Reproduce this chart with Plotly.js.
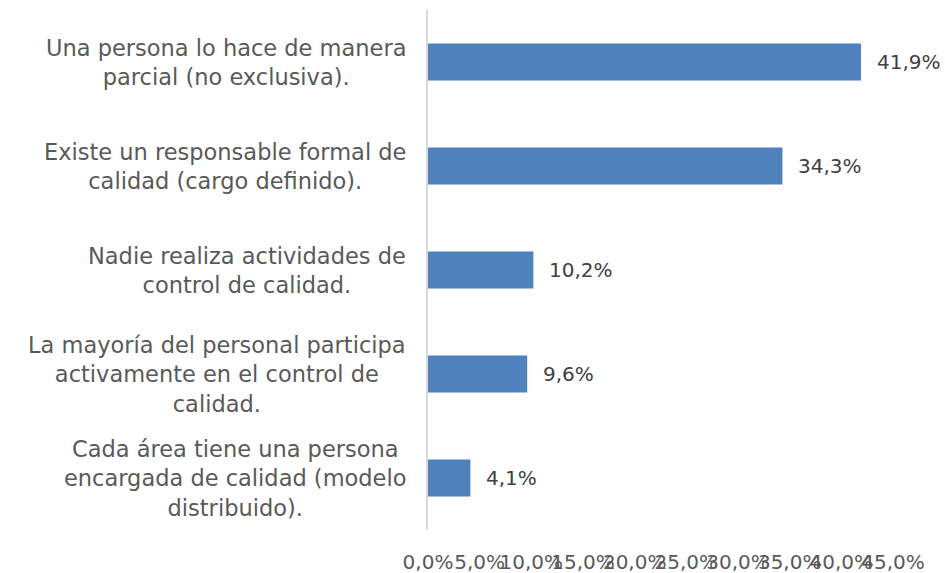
<!DOCTYPE html>
<html>
<head>
<meta charset="utf-8">
<script src="https://cdn.plot.ly/plotly-3.0.1.min.js"></script>
<style>html,body{margin:0;padding:0;background:#fff;}#chart{width:945px;height:573px;}</style>
</head>
<body>
<div id="chart"></div>
<script>
const categories = [
  "Una persona lo hace de manera<br>parcial (no exclusiva).",
  "Existe un responsable formal de<br>calidad (cargo definido).",
  "Nadie realiza actividades de<br>control de calidad.",
  "La mayoría del personal participa<br>activamente en el control de<br>calidad.",
  "Cada área tiene una persona<br>encargada de calidad (modelo<br>distribuido)."
];
const values = [41.9, 34.3, 10.2, 9.6, 4.1];
const tickVals = [0, 5, 10, 15, 20, 25, 30, 35, 40, 45];
const tickText = ["0,0%", "5,0%", "10,0%", "15,0%", "20,0%", "25,0%", "30,0%", "35,0%", "40,0%", "45,0%"];

const FONT = "DejaVu Sans";
const trace = {
  type: "bar",
  orientation: "h",
  x: values,
  y: categories,
  marker: {color: "#4F81BD"},
  hoverinfo: "skip"
};

const annotations = [];
categories.forEach((c, i) => {
  annotations.push({
    xref: "paper", yref: "y", x: 0, y: c, xshift: -20,
    xanchor: "right", yanchor: "middle", align: "center",
    text: c, showarrow: false,
    font: {family: FONT, size: 22.5, color: "#595959"}
  });
  annotations.push({
    xref: "x", yref: "y", x: values[i], y: c, xshift: 14,
    xanchor: "left", yanchor: "middle",
    text: values[i].toFixed(1).replace(".", ",") + "%", showarrow: false,
    font: {family: FONT, size: 20, color: "#404040"}
  });
});

const layout = {
  width: 945, height: 573,
  margin: {l: 428, r: 52, t: 10, b: 43, pad: 0},
  paper_bgcolor: "#fff", plot_bgcolor: "#fff",
  bargap: 0.645,
  showlegend: false,
  font: {family: FONT, size: 20, color: "#595959"},
  xaxis: {
    range: [0, 45], tickvals: tickVals, ticktext: tickText,
    tickangle: 0,
    showgrid: false, zeroline: false, showline: false, ticks: "",
    ticklabelstandoff: 18,
    tickfont: {family: FONT, size: 20, color: "#595959"}
  },
  yaxis: {
    autorange: "reversed", showticklabels: false, showgrid: false,
    zeroline: false, showline: true, linecolor: "#D9D9D9", linewidth: 2, ticks: ""
  },
  annotations: annotations
};

Plotly.newPlot("chart", [trace], layout, {displayModeBar: false, staticPlot: true});
</script>
</body>
</html>
